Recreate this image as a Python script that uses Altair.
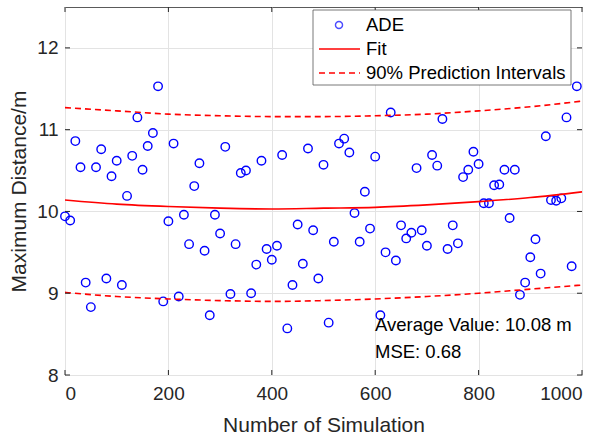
import altair as alt
import pandas as pd

# ---- data ----
sim_x = list(range(0, 1000, 10))
ade = [9.94, 9.89, 10.86, 10.54, 9.13, 8.83, 10.54, 10.76, 9.18, 10.43,
       10.62, 9.10, 10.19, 10.68, 11.15, 10.51, 10.80, 10.96, 11.53, 8.90,
       9.88, 10.83, 8.96, 9.96, 9.60, 10.31, 10.59, 9.52, 8.73, 9.96,
       9.73, 10.79, 8.99, 9.60, 10.47, 10.50, 9.00, 9.35, 10.62, 9.54,
       9.41, 9.58, 10.69, 8.57, 9.10, 9.84, 9.36, 10.77, 9.77, 9.18,
       10.57, 8.64, 9.63, 10.83, 10.89, 10.72, 9.98, 9.63, 10.24, 9.79,
       10.67, 8.73, 9.50, 11.21, 9.40, 9.83, 9.67, 9.74, 10.53, 9.77,
       9.58, 10.69, 10.56, 11.13, 9.54, 9.83, 9.61, 10.42, 10.51, 10.73,
       10.58, 10.10, 10.10, 10.32, 10.33, 10.51, 9.92, 10.51, 8.98, 9.13,
       9.44, 9.66, 9.24, 10.92, 10.14, 10.13, 10.16, 11.15, 9.33, 11.53]

curve_x = [0, 100, 200, 300, 400, 500, 600, 700, 800, 900, 1000]
fit_y = [10.14, 10.09, 10.06, 10.04, 10.03, 10.04, 10.05, 10.08, 10.12, 10.17, 10.24]
upper_y = [11.27, 11.23, 11.19, 11.17, 11.16, 11.16, 11.17, 11.19, 11.23, 11.28, 11.35]
lower_y = [9.01, 8.96, 8.93, 8.91, 8.90, 8.91, 8.93, 8.96, 9.00, 9.05, 9.10]

x_ticks = [0, 200, 400, 600, 800, 1000]
y_ticks = [8, 9, 10, 11, 12]

legend_labels = ["ADE", "Fit", "90% Prediction Intervals"]
avg_text = "Average Value: 10.08 m"
mse_text = "MSE: 0.68"

FONT = "Liberation Sans"
TXT = "#262626"
W, H = 517, 368

pts = pd.DataFrame({"x": sim_x, "y": ade})
curves = pd.DataFrame({"x": curve_x, "fit": fit_y, "upper": upper_y, "lower": lower_y})

xs = alt.Scale(domain=[0, 1000], nice=False, zero=False)
ys = alt.Scale(domain=[8, 12.5], nice=False, zero=False)

xaxis = alt.Axis(values=x_ticks, title="Number of Simulation", grid=True, ticks=False,
                 domain=False, labelPadding=9, titlePadding=11, format="d")
yaxis = alt.Axis(values=y_ticks, title="Maximum Distance/m", grid=True, ticks=False,
                 domain=False, labelPadding=7, titlePadding=7, format="d")

points = alt.Chart(pts).mark_point(shape="circle", filled=False, color="#0000ff",
                                   size=72, strokeWidth=1.4, opacity=1).encode(
    x=alt.X("x:Q", scale=xs, axis=xaxis),
    y=alt.Y("y:Q", scale=ys, axis=yaxis),
)

base_c = alt.Chart(curves)
fit = base_c.mark_line(color="#ff0000", strokeWidth=1.6, interpolate="monotone").encode(
    x=alt.X("x:Q", scale=xs), y=alt.Y("fit:Q", scale=ys))
up = base_c.mark_line(color="#ff0000", strokeWidth=1.6, strokeDash=[6, 4], interpolate="monotone").encode(
    x=alt.X("x:Q", scale=xs), y=alt.Y("upper:Q", scale=ys))
lo = base_c.mark_line(color="#ff0000", strokeWidth=1.6, strokeDash=[6, 4], interpolate="monotone").encode(
    x=alt.X("x:Q", scale=xs), y=alt.Y("lower:Q", scale=ys))

# inward ticks on all four sides (box on)
xt = pd.DataFrame({"t": x_ticks})
yt = pd.DataFrame({"t": y_ticks})
tk = dict(color=TXT, strokeWidth=1)
xt_bot = alt.Chart(xt).mark_rule(**tk).encode(x=alt.X("t:Q", scale=xs), y=alt.value(H), y2=alt.value(H - 5))
xt_top = alt.Chart(xt).mark_rule(**tk).encode(x=alt.X("t:Q", scale=xs), y=alt.value(0), y2=alt.value(5))
yt_l = alt.Chart(yt).mark_rule(**tk).encode(y=alt.Y("t:Q", scale=ys), x=alt.value(0), x2=alt.value(5))
yt_r = alt.Chart(yt).mark_rule(**tk).encode(y=alt.Y("t:Q", scale=ys), x=alt.value(W), x2=alt.value(W - 5))

# legend (manual, boxed, top right)
one = pd.DataFrame({"a": [0]})
leg_box = alt.Chart(one).mark_rect(fill="white", stroke="#555555", strokeWidth=0.8).encode(
    x=alt.value(248), x2=alt.value(506), y=alt.value(3), y2=alt.value(78))
leg_pt = alt.Chart(one).mark_point(shape="circle", filled=False, color="#0000ff", size=50, strokeWidth=1.4).encode(
    x=alt.value(274), y=alt.value(18))
leg_fit = alt.Chart(one).mark_rule(color="#ff0000", strokeWidth=1.4).encode(
    x=alt.value(254), x2=alt.value(295), y=alt.value(42))
leg_pi = alt.Chart(one).mark_rule(color="#ff0000", strokeWidth=1.4, strokeDash=[6, 4]).encode(
    x=alt.value(254), x2=alt.value(295), y=alt.value(66))
leg_txt = []
for lab, yy in zip(legend_labels, [18, 42, 66]):
    leg_txt.append(alt.Chart(pd.DataFrame({"label": [lab]})).mark_text(
        align="left", baseline="middle", font=FONT, fontSize=18.5, color="black").encode(
        text="label:N", x=alt.value(301), y=alt.value(yy)))

ann = []
for t, yy in zip([avg_text, mse_text], [318, 345]):
    ann.append(alt.Chart(pd.DataFrame({"label": [t]})).mark_text(
        align="left", baseline="middle", font=FONT, fontSize=18.5, color="black").encode(
        text="label:N", x=alt.value(310), y=alt.value(yy)))

chart = alt.layer(points, fit, up, lo, xt_bot, xt_top, yt_l, yt_r,
                  leg_box, leg_pt, leg_fit, leg_pi, *leg_txt, *ann).properties(
    width=W, height=H,
    autosize=alt.AutoSizeParams(type="none"),
    padding={"left": 65, "top": 7, "right": 25, "bottom": 62},
    background="white",
).configure_view(stroke="#5a5a5a", strokeWidth=1).configure_axis(
    labelFont=FONT, titleFont=FONT, labelFontSize=19, titleFontSize=21,
    labelColor=TXT, titleColor=TXT, titleFontWeight="normal",
    gridColor="#e3e3e3", gridWidth=1,
)

chart.save("out.html", embed_options={"renderer": "svg", "actions": False})
